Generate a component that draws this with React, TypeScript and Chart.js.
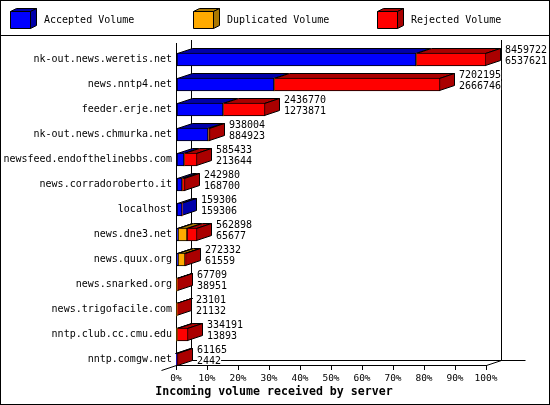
import { useEffect, useRef } from 'react';
import { Chart, registerables } from 'chart.js';

Chart.register(...registerables);

const hosts = [
  'nk-out.news.weretis.net',
  'news.nntp4.net',
  'feeder.erje.net',
  'nk-out.news.chmurka.net',
  'newsfeed.endofthelinebbs.com',
  'news.corradoroberto.it',
  'localhost',
  'news.dne3.net',
  'news.quux.org',
  'news.snarked.org',
  'news.trigofacile.com',
  'nntp.club.cc.cmu.edu',
  'nntp.comgw.net',
];

// first line of each bar label, bytes offered in total
const totals = [8459722, 7202195, 2436770, 938004, 585433, 242980, 159306, 562898, 272332, 67709, 23101, 334191, 61165];
// second line of each bar label
const secondLine = [6537621, 2666746, 1273871, 884923, 213644, 168700, 159306, 65677, 61559, 38951, 21132, 13893, 2442];

const accepted = [6537621, 2666746, 1273871, 884923, 213644, 168700, 159306, 65677, 61559, 38951, 21132, 13893, 2442];
// no printed value for duplicates, estimated from the orange segments
const duplicated = [0, 0, 0, 0, 0, 0, 0, 226000, 192000, 0, 0, 0, 0];
const rejected = [1922101, 4535449, 1162899, 53081, 371789, 74280, 0, 271221, 18773, 28758, 1969, 320298, 58723];

const xTicks = [0, 10, 20, 30, 40, 50, 60, 70, 80, 90, 100];
const xTitle = 'Incoming volume received by server';

const DEPTH_X = 15;
const DEPTH_Y = 5;
const MONO = '"DejaVu Sans Mono", monospace';

const series = [
  { label: 'Accepted Volume', values: accepted, color: '#0000ff', dark: '#0000aa', legendX: 10 },
  { label: 'Duplicated Volume', values: duplicated, color: '#ffaa00', dark: '#aa7700', legendX: 193 },
  { label: 'Rejected Volume', values: rejected, color: '#ff0000', dark: '#aa0000', legendX: 377 },
];

const maxTotal = Math.max(...totals);
const toPct = (v: number) => (v / maxTotal) * 100;

function poly(ctx: CanvasRenderingContext2D, pts: number[][], fill: string) {
  ctx.beginPath();
  pts.forEach(([x, y], i) => (i ? ctx.lineTo(x, y) : ctx.moveTo(x, y)));
  ctx.closePath();
  ctx.fillStyle = fill;
  ctx.fill();
  ctx.strokeStyle = '#000';
  ctx.lineWidth = 1;
  ctx.stroke();
}

function line(ctx: CanvasRenderingContext2D, x1: number, y1: number, x2: number, y2: number) {
  ctx.beginPath();
  ctx.moveTo(x1, y1);
  ctx.lineTo(x2, y2);
  ctx.strokeStyle = '#000';
  ctx.lineWidth = 1;
  ctx.stroke();
}

const snap = (v: number) => Math.round(v) + 0.5;

// frame, legend strip, fake 3d walls and the title
const framePlugin = {
  id: 'frame',
  beforeDraw(chart: Chart) {
    const { ctx, width, height } = chart;
    ctx.save();
    ctx.fillStyle = '#fff';
    ctx.fillRect(0, 0, width, height);
    ctx.strokeStyle = '#000';
    ctx.lineWidth = 1;
    ctx.strokeRect(0.5, 0.5, width - 1, height - 1);
    line(ctx, 0, 35.5, width, 35.5);

    // legend boxes
    ctx.font = `10px ${MONO}`;
    ctx.textBaseline = 'middle';
    ctx.textAlign = 'left';
    series.forEach((s) => {
      const l = s.legendX + 0.5;
      const r = l + 20;
      const t = 11.5;
      const b = 28.5;
      poly(ctx, [[l, t], [l + 6, t - 3], [r + 6, t - 3], [r, t]], s.dark);
      poly(ctx, [[r, t], [r + 6, t - 3], [r + 6, b - 3], [r, b]], s.dark);
      poly(ctx, [[l, t], [r, t], [r, b], [l, b]], s.color);
      ctx.fillStyle = '#000';
      ctx.fillText(s.label, s.legendX + 34, 20);
    });
    ctx.restore();
  },
  beforeDatasetsDraw(chart: Chart) {
    const { ctx, chartArea: a } = chart;
    ctx.save();
    // walls and floor
    const left = snap(a.left);
    const right = snap(a.right);
    const floor = snap(a.bottom);
    line(ctx, left, a.top + 3, left, floor);
    line(ctx, left + DEPTH_X, a.top, left + DEPTH_X, floor - DEPTH_Y);
    line(ctx, right + DEPTH_X, a.top, right + DEPTH_X, floor - DEPTH_Y);
    line(ctx, left, floor, right, floor);
    line(ctx, left + DEPTH_X, floor - DEPTH_Y, right + 39, floor - DEPTH_Y);
    line(ctx, left - DEPTH_X, floor + DEPTH_Y, left, floor);
    line(ctx, right, floor, right + DEPTH_X, floor - DEPTH_Y);

    // whole pixels keep the black outlines crisp on the slim segments
    series.forEach((_, d) => {
      chart.getDatasetMeta(d).data.forEach((el: any) => {
        el.x = Math.round(el.x);
        el.base = Math.round(el.base);
      });
    });

    // top and side faces of the bars, read from the bar elements
    hosts.forEach((_, row) => {
      let lastEl: any = null;
      let lastDark = '';
      series.forEach((s, d) => {
        const el: any = chart.getDatasetMeta(d).data[row];
        if (!el || !s.values[row]) return;
        const y0 = el.y - el.height / 2 + 0.5;
        const x0 = el.base + 0.5;
        const x1 = el.x - 0.5;
        poly(ctx, [[x0, y0], [x0 + DEPTH_X, y0 - DEPTH_Y], [x1 + DEPTH_X, y0 - DEPTH_Y], [x1, y0]], s.dark);
        lastEl = el;
        lastDark = s.dark;
      });
      if (lastEl) {
        const y0 = lastEl.y - lastEl.height / 2 + 0.5;
        const y1 = lastEl.y + lastEl.height / 2 - 0.5;
        const x1 = lastEl.x - 0.5;
        poly(ctx, [[x1, y0], [x1 + DEPTH_X, y0 - DEPTH_Y], [x1 + DEPTH_X, y1 - DEPTH_Y], [x1, y1]], lastDark);
      }
    });
    ctx.restore();
  },
  afterDatasetsDraw(chart: Chart) {
    const { ctx, width } = chart;
    ctx.save();
    ctx.font = `10px ${MONO}`;
    ctx.textAlign = 'left';
    ctx.textBaseline = 'middle';
    hosts.forEach((_, row) => {
      let end = chart.chartArea.left;
      let y = 0;
      series.forEach((s, d) => {
        const el: any = chart.getDatasetMeta(d).data[row];
        if (el && s.values[row]) {
          end = el.x;
          y = el.y;
        }
      });
      const x = end + DEPTH_X + 4;
      [[String(totals[row]), y - 9.5], [String(secondLine[row]), y + 1.5]].forEach(([txt, ty]) => {
        const w = ctx.measureText(txt as string).width;
        ctx.fillStyle = '#fff';
        ctx.fillRect(x, (ty as number) - 5, w, 9);
        ctx.fillStyle = '#000';
        ctx.fillText(txt as string, x, ty as number);
      });
    });
    // centred on the whole picture, not on the plot
    ctx.font = `bold 11.6px ${MONO}`;
    ctx.textAlign = 'center';
    ctx.fillStyle = '#000';
    ctx.fillText(xTitle, width / 2 - 1, 392);
    ctx.restore();
  },
};

export default function App() {
  const canvasRef = useRef<HTMLCanvasElement | null>(null);

  useEffect(() => {
    if (!canvasRef.current) return;
    const chart = new Chart(canvasRef.current, {
      type: 'bar',
      data: {
        datasets: series.map((s) => ({
          label: s.label,
          data: s.values.map((v, i) => ({ x: toPct(v), y: i })),
          backgroundColor: s.color,
          borderColor: '#000',
          borderWidth: (c: any) => (s.values[c.dataIndex] ? 1 : 0),
          borderSkipped: false,
          barThickness: 13,
        })),
      },
      options: {
        indexAxis: 'y',
        responsive: false,
        animation: false,
        devicePixelRatio: 1,
        layout: { padding: { top: 40, right: 64, bottom: 0, left: 0 } },
        plugins: {
          legend: { display: false },
          title: { display: false },
          tooltip: { enabled: false },
        },
        scales: {
          x: {
            type: 'linear',
            stacked: true,
            min: 0,
            max: 100,
            afterFit: (s: any) => { s.height = 40; },
            afterBuildTicks: (s: any) => { s.ticks = xTicks.map((value) => ({ value })); },
            border: { display: false },
            grid: { drawOnChartArea: false, drawTicks: true, tickLength: 5, color: '#000' },
            ticks: {
              autoSkip: false,
              maxRotation: 0,
              padding: 3,
              color: '#000',
              font: { family: MONO, size: 9.5 },
              callback: (v: any) => `${v}%`,
            },
          },
          y: {
            type: 'linear',
            stacked: true,
            reverse: true,
            offset: false,
            // bars sit low in their 25px band, so the range is not centred on the rows
            min: -0.78,
            max: 12.22,
            afterFit: (s: any) => { s.width = 176; },
            afterBuildTicks: (s: any) => { s.ticks = hosts.map((_, value) => ({ value })); },
            border: { display: false },
            grid: { display: false, drawTicks: false },
            ticks: {
              autoSkip: false,
              padding: 4,
              color: '#000',
              font: { family: MONO, size: 10 },
              callback: (v: any) => hosts[v],
            },
          },
        },
      },
      plugins: [framePlugin],
    } as any);
    return () => { chart.destroy(); };
  }, []);

  return (
    <div style={{ position: 'absolute', left: 0, top: 0, width: 550, height: 405 }}>
      <canvas ref={canvasRef} width={550} height={405} style={{ display: 'block' }} />
    </div>
  );
}
